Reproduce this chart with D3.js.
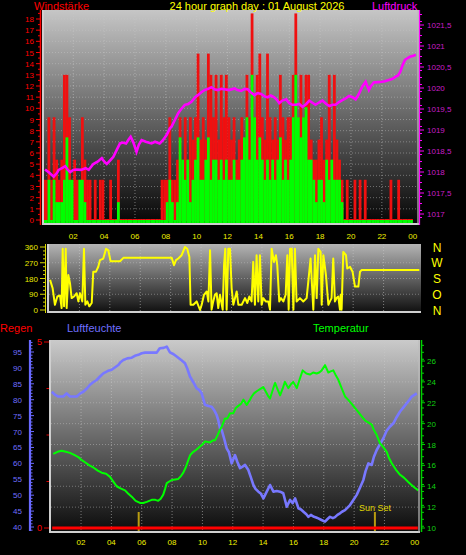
<!DOCTYPE html>
<html><head><meta charset="utf-8">
<script src="https://cdn.jsdelivr.net/npm/d3@7"></script>
<style>body{margin:0;background:#000}svg{display:block}text{font-family:"Liberation Sans",Arial,sans-serif}</style>
</head><body><svg id="c" width="466" height="555"></svg>
<script>
// ---------- DATA ----------
const titleText = "24 hour graph day : 01 August 2026";
const windIntervalMinutes = 10;
const gust = [3.6,3.6,9.2,3.6,9.2,5.4,3.6,5.4,13,13,9.2,3.6,5.4,3.6,3.6,9.2,5.4,3.6,
 3.6,0,3.6,0,3.6,3.6,0,0,3.6,0,0,5.4,
 0,0,0,0,0,0,0,0,0,0,0,0,0,0,0,0,
 3.6,3.6,
 3.6,9.2,3.6,3.6,5.4,9.2,5.4,
 9.2,5.4,9.2,7.2,9.2,14.9,7.2,9.2,7.2,14.9,13,9.2,
 13,7.2,13,9.2,13,9.2,7.2,9.2,5.4,7.2,9.2,7.2,
 13,9.2,18.5,9.2,13,14.9,9.2,7.2,14.9,9.2,7.2,9.2,7.2,13,9.2,7.2,9.2,9.2,13,18.5,
 9.2,13,9.2,13,13,7.2,5.4,5.4,7.2,9.2,5.4,7.2,13,5.4,13,7.2,5.4,3.6,0,
 3.6,0,0,3.6,0,3.6,0,3.6,
 0,0,0,0,0,0,0,0,0,
 3.6,0,0,3.6,
 0,0,0,0,0];
const avgWind = [0,0,3.6,0,3.6,1.6,1.6,1.6,3.6,7.4,3.6,3.6,0,0,3.6,3.6,1.6,0,
 0,0,0,0,0,0,0,0,0,0,0,1.6,
 0,0,0,0,0,0,0,0,0,0,0,0,0,0,0,0,0,0,
 1.6,3.6,1.6,0,1.6,7.4,5.4,
 3.6,5.4,1.6,3.6,5.4,7.4,3.6,3.6,5.4,7.4,3.6,5.4,
 5.4,3.6,5.4,3.6,5.4,3.6,3.6,5.4,3.6,3.6,5.4,7.4,
 9.2,5.4,13,9.2,5.4,7.4,5.4,3.6,5.4,3.6,5.4,3.6,5.4,7.4,3.6,5.4,3.6,5.4,9.2,13,
 9.2,7.4,9.2,10.1,5.4,5.4,3.6,1.6,3.6,3.6,1.6,5.4,3.6,5.4,3.6,3.6,3.6,1.6,0,
 0,0,0,0,0,0,0,0,0,0,0,0,0,0,0,0,0,0,0,0,0,0,0,0,0,0];

const pressHours = [0.17,0.45,0.73,0.95,1.05,1.3,1.48,1.65,1.8,2.0,2.2,2.5,2.8,3.0,3.3,3.6,3.85,4.0,4.17,4.4,4.6,4.85,5.03,5.2,5.42,5.6,5.72,5.9,6.1,6.25,6.43,6.7,7.07,7.3,7.6,7.8,8.05,8.26,8.37,8.6,8.8,9.0,9.23,9.45,9.66,9.9,10.08,10.3,10.5,10.75,10.95,11.15,11.37,11.6,11.8,12.1,12.45,12.65,12.88,13.1,13.3,13.5,13.74,13.95,14.17,14.4,14.6,14.8,15.03,15.2,15.35,15.55,15.8,16.0,16.2,16.43,16.65,16.86,17.1,17.3,17.5,17.7,17.95,18.15,18.4,18.6,18.8,19.0,19.2,19.44,19.65,19.87,20.1,20.3,20.5,20.73,20.95,21.16,21.3,21.48,21.75,22.0,22.2,22.45,22.7,22.9,23.05,23.2,23.35,23.5,23.7,23.85,24.0,24.2];
const pressValues = [1018.06,1017.98,1017.89,1017.98,1018.05,1018.1,1018.14,1018.05,1018.0,1018.05,1018.06,1018.05,1018.09,1018.05,1018.19,1018.25,1018.33,1018.25,1018.19,1018.28,1018.36,1018.55,1018.68,1018.7,1018.68,1018.78,1018.84,1018.7,1018.48,1018.65,1018.76,1018.72,1018.68,1018.72,1018.68,1018.75,1018.88,1019.04,1019.08,1019.25,1019.4,1019.5,1019.6,1019.62,1019.67,1019.78,1019.83,1019.9,1019.95,1019.98,1020.02,1019.97,1019.95,1019.98,1019.97,1019.95,1019.99,1019.95,1019.93,1019.98,1019.97,1019.9,1019.83,1019.88,1019.86,1019.8,1019.78,1019.82,1019.78,1019.72,1019.64,1019.7,1019.73,1019.64,1019.6,1019.6,1019.62,1019.55,1019.62,1019.7,1019.65,1019.6,1019.66,1019.7,1019.62,1019.57,1019.6,1019.6,1019.66,1019.71,1019.75,1019.81,1019.78,1019.73,1019.85,1020.03,1020.15,1019.95,1020.05,1020.13,1020.14,1020.15,1020.16,1020.19,1020.22,1020.27,1020.3,1020.39,1020.55,1020.67,1020.72,1020.75,1020.76,1020.79];

const dirHours = [0.07,0.24,0.39,0.55,0.72,0.83,0.90,0.99,1.10,1.16,1.27,1.38,1.49,1.64,1.82,1.93,2.04,2.19,2.30,2.39,2.52,2.65,2.81,2.91,3.09,3.24,3.35,3.57,3.75,3.90,4.05,4.23,4.67,4.89,5.54,7.74,8.07,8.22,8.35,8.50,8.72,8.94,9.09,9.23,9.31,9.49,9.71,9.93,10.04,10.19,10.37,10.48,10.59,10.69,10.80,10.91,11.02,11.13,11.24,11.42,11.51,11.59,11.68,11.79,11.90,12.01,12.12,12.34,12.45,12.67,12.89,13.04,13.17,13.32,13.43,13.54,13.65,13.76,13.87,13.98,14.09,14.25,14.42,14.53,14.64,14.79,14.92,15.01,15.14,15.25,15.41,15.56,15.67,15.76,15.85,15.96,16.07,16.17,16.28,16.50,16.72,16.94,17.20,17.38,17.49,17.60,17.71,17.86,17.93,18.04,18.21,18.37,18.47,18.58,18.69,18.80,18.91,19.02,19.13,19.18,19.24,19.35,19.53,19.61,19.79,19.96,20.12,20.34,20.45,20.56,24.35];
const dirValues = [172,124,30,77,83,11,350,21,350,11,200,153,68,77,96,49,96,49,350,30,49,21,40,219,219,247,285,294,350,341,279,279,279,298,298,298,298,256,285,294,313,360,350,303,30,30,49,0,30,87,106,49,341,2,49,87,96,11,87,2,256,350,2,350,350,124,30,106,30,30,68,40,77,49,275,30,313,49,313,30,68,49,49,2,350,275,313,256,49,68,49,87,313,2,350,350,2,350,49,68,49,68,294,2,313,68,350,332,30,313,200,30,49,68,294,49,68,77,2,87,2,332,313,237,247,219,134,134,219,228,228];

const humHours = [0.07,0.3,0.5,0.83,1.05,1.27,1.71,1.95,2.15,2.4,2.59,2.8,3.03,3.25,3.47,3.75,4.02,4.25,4.46,4.6,4.79,5.05,5.34,5.55,5.78,6.0,6.22,6.6,6.99,7.1,7.2,7.45,7.65,7.75,7.86,8.1,8.3,8.6,8.85,9.0,9.18,9.4,9.62,9.8,9.95,10.17,10.4,10.61,10.8,10.94,11.05,11.16,11.27,11.45,11.6,11.75,11.93,12.15,12.3,12.48,12.65,12.81,13.03,13.2,13.36,13.5,13.69,13.85,14.02,14.24,14.46,14.68,14.9,15.12,15.33,15.56,15.78,15.95,16.11,16.33,16.5,16.66,16.85,16.99,17.15,17.31,17.5,17.64,17.85,18.08,18.25,18.41,18.6,18.74,18.9,19.07,19.2,19.4,19.55,19.73,19.95,20.17,20.4,20.61,20.75,20.94,21.16,21.3,21.49,21.7,21.93,22.15,22.35,22.59,22.8,23.03,23.25,23.47,23.65,23.8,24.0,24.13];
const humValues = [82.5,81.5,81.0,81.0,82.0,81.0,81.0,82.0,82.5,83.6,84.7,85.5,86.2,87.3,88.3,89.0,89.4,90.2,90.9,91.8,92.5,93.0,93.2,93.8,94.1,94.6,94.8,94.8,94.8,95.6,96.2,96.3,96.7,95.8,94.9,94.3,93.6,92.5,91.5,89.8,87.3,85.5,83.6,83.0,82.0,78.4,78.0,77.8,76.5,75.2,73.5,71.0,70.5,67.5,64.7,63.5,60.0,62.6,60.5,58.5,59.0,59.5,57.9,55.5,53.2,52.0,51.1,50.5,49.0,51.1,53.2,51.1,51.3,51.1,50.6,46.4,48.5,47.5,49.0,45.9,45.5,44.8,44.0,43.2,43.8,43.3,43.0,42.7,42.2,41.7,42.5,43.2,42.8,43.1,43.8,44.3,44.8,45.3,46.0,46.9,48.5,50.1,52.5,54.8,57.5,60.0,59.5,62.0,64.2,66.0,67.9,70.3,71.5,72.6,74.5,76.3,77.6,78.9,80.0,81.0,81.6,82.0];

const tempHours = [0.17,0.45,0.72,1.0,1.27,1.55,1.82,2.05,2.26,2.55,2.81,3.1,3.36,3.65,3.91,4.15,4.35,4.6,4.9,5.1,5.34,5.6,5.89,6.1,6.33,6.66,6.9,7.09,7.25,7.42,7.55,7.65,7.98,8.2,8.41,8.6,8.74,8.9,9.07,9.2,9.4,9.6,9.84,10.0,10.17,10.5,10.7,10.83,11.0,11.16,11.3,11.49,11.65,11.82,12.04,12.2,12.37,12.55,12.7,12.92,13.1,13.25,13.4,13.58,13.8,14.01,14.2,14.35,14.46,14.65,14.79,14.95,15.12,15.3,15.44,15.66,15.85,15.99,16.22,16.4,16.61,16.85,17.09,17.3,17.53,17.7,17.86,18.08,18.3,18.45,18.63,18.8,18.96,19.15,19.4,19.6,19.84,20.05,20.28,20.5,20.72,20.95,21.16,21.3,21.49,21.71,21.9,22.15,22.3,22.48,22.75,23.03,23.3,23.57,23.8,24.0,24.23];
const tempValues = [17.1,17.3,17.4,17.3,17.2,17.0,16.8,16.5,16.3,16.0,15.8,15.5,15.3,15.2,14.9,14.4,14.0,13.8,13.6,13.3,13.0,12.6,12.4,12.4,12.5,12.7,12.7,12.6,12.8,13.2,13.8,14.3,14.6,14.65,14.7,15.0,15.3,15.8,16.5,17.0,17.3,17.5,17.8,18.0,18.3,18.2,18.4,18.4,18.9,19.4,19.8,20.5,20.5,21.0,21.0,21.5,21.7,21.9,22.3,21.8,22.2,22.6,22.9,23.1,23.3,23.5,23.0,22.6,22.4,23.3,23.9,23.3,22.7,23.4,24.0,23.4,23.8,24.0,23.4,24.2,25.1,24.8,24.7,24.9,24.8,24.9,25.1,25.6,24.9,25.0,25.1,24.6,24.2,23.5,22.6,22.3,21.9,21.5,21.1,20.7,20.3,20.1,19.9,19.4,18.9,18.1,17.8,17.3,16.7,16.2,15.6,15.1,14.8,14.4,14.1,13.85,13.6];

const rainHours = [0.1, 24.2];
const rainValues = [0, 0];
const sunHours = [5.8, 21.37];
const sunLabels = ["", "Sun Set"];

const hourTicks = [2,4,6,8,10,12,14,16,18,20,22,24];
const windTicks = d3.range(0, 19, 1);
const pressTicks = [1017,1017.5,1018,1018.5,1019,1019.5,1020,1020.5,1021,1021.5];
const dirTicks = [0,90,180,270,360];
const compass = ["N","W","S","O","N"];
const humTicks = [40,45,50,55,60,65,70,75,80,85,90,95];
const tempTicks = [10,12,14,16,18,20,22,24,26];
const rainTicks = [0,1.25,2.5,3.75,5];

// ---------- SCALES ----------
const topX = d3.scaleLinear().domain([0,24]).range([42.4,412.7]);
const windY = d3.scaleLinear().domain([0,18]).range([220,19]);
const pressY = d3.scaleLinear().domain([1017,1021.5]).range([214,25]);
const dirX = d3.scaleLinear().domain([0,24]).range([49,414]);
const dirY = d3.scaleLinear().domain([0,360]).range([310,247]);
const botX = d3.scaleLinear().domain([0,24]).range([50.7,414.8]);
const humY = d3.scaleLinear().domain([40,95]).range([527,352]);
const tempY = d3.scaleLinear().domain([10,26]).range([528,361]);
const rainY = d3.scaleLinear().domain([0,5]).range([528,342]);

const svg = d3.select('#c');
const defs = svg.append('defs');
function grad(id, c0, c1){
  const g = defs.append('linearGradient').attr('id',id).attr('x1',0).attr('y1',0).attr('x2',0).attr('y2',1);
  g.append('stop').attr('offset',0).attr('stop-color',c0);
  g.append('stop').attr('offset',1).attr('stop-color',c1);
}
grad('gTop','#c6c6c6','#040404');
grad('gDir','#b4b4b4','#0e0e0e');
grad('gBot','#cacaca','#0a0a0a');

function panel(x,y,w,h,gid){
  svg.append('rect').attr('x',x).attr('y',y).attr('width',w).attr('height',h).attr('fill',`url(#${gid})`);
}
function gridV(xs, y0, y1){
  xs.forEach(x=>svg.append('line').attr('x1',x).attr('x2',x).attr('y1',y0).attr('y2',y1)
    .attr('stroke','#c8c8c8').attr('stroke-opacity',0.55).attr('stroke-dasharray','1,2'));
}
function gridH(ys, x0, x1){
  ys.forEach(y=>svg.append('line').attr('x1',x0).attr('x2',x1).attr('y1',y).attr('y2',y)
    .attr('stroke','#c8c8c8').attr('stroke-opacity',0.45).attr('stroke-dasharray','1,2'));
}
function border(x,y,w,h){
  svg.append('rect').attr('x',x).attr('y',y).attr('width',2).attr('height',h).attr('fill','#cfcfcf');
  svg.append('rect').attr('x',x).attr('y',y+h-2).attr('width',w).attr('height',2).attr('fill','#cfcfcf');
  svg.append('rect').attr('x',x+w-2).attr('y',y).attr('width',2).attr('height',h).attr('fill','#bdbdbd').attr('opacity',0.6);
}
function txt(x,y,s,fill,size,anchor){
  return svg.append('text').attr('x',x).attr('y',y).text(s).attr('fill',fill)
    .attr('font-size',size).attr('text-anchor',anchor||'start');
}
const pad = h => String(h%24).padStart(2,'0');

// ---------- TOP PANEL ----------
panel(42,10,377,215,'gTop');
gridH(windTicks.slice(1).map(windY), 43, 417);
gridV(hourTicks.slice(0,-1).map(topX), 10, 224);

const step = topX(windIntervalMinutes/60) - topX(0);
svg.append('g').selectAll('rect').data(gust).join('rect')
  .attr('x',(d,i)=>topX(i*windIntervalMinutes/60))
  .attr('width',step+0.2)
  .attr('y',d=>Math.min(windY(d),219))
  .attr('height',d=>221-Math.min(windY(d),219))
  .attr('fill','#f01010');
svg.append('g').selectAll('rect').data(avgWind).join('rect')
  .attr('x',(d,i)=>topX(i*windIntervalMinutes/60))
  .attr('width',step+0.2)
  .attr('y',d=>Math.min(windY(d),221.5))
  .attr('height',d=>224-Math.min(windY(d),221.5))
  .attr('fill','#00ff00');

svg.append('path').datum(pressHours.map((h,i)=>[h,pressValues[i]]))
  .attr('d',d3.line().x(d=>topX(d[0])).y(d=>pressY(d[1])))
  .attr('fill','none').attr('stroke','#ff00ff').attr('stroke-width',2.6);
border(42,10,377,215);

// wind axis (left)
svg.append('line').attr('x1',40.5).attr('x2',40.5).attr('y1',10).attr('y2',225).attr('stroke','#ff0000').attr('stroke-width',1.5);
d3.range(0,18.6,0.5).forEach(v=>{
  const major = v%1===0;
  svg.append('line').attr('x1',major?36:38).attr('x2',41).attr('y1',windY(v)).attr('y2',windY(v)).attr('stroke','#ff0000');
});
windTicks.forEach(v=>txt(34, windY(v)+3, v, '#ff0000', 8, 'end'));
// pressure axis (right)
svg.append('line').attr('x1',419.5).attr('x2',419.5).attr('y1',10).attr('y2',225).attr('stroke','#ff00ff').attr('stroke-width',1.2);
d3.range(1016.75,1021.9,1/6).forEach(p=>{
  if(pressY(p)>=11 && pressY(p)<=224)
  svg.append('line').attr('x1',419).attr('x2',422).attr('y1',pressY(p)).attr('y2',pressY(p)).attr('stroke','#ff00ff');
});
pressTicks.forEach(p=>{
  svg.append('line').attr('x1',419).attr('x2',424).attr('y1',pressY(p)).attr('y2',pressY(p)).attr('stroke','#ff00ff');
  txt(427, pressY(p)+3, String(p).replace('.',','), '#c81ec8', 8);
});
hourTicks.forEach(h=>txt(topX(h), 239, pad(h), '#f0f000', 8, 'middle'));

txt(34,10,'Windstärke','#ff0000',11);
txt(257,10,titleText,'#ffff00',11,'middle');
txt(372,10,'Luftdruck','#ff00ff',11);

// ---------- WIND DIRECTION PANEL ----------
panel(47,244,374,69,'gDir');
gridH(dirTicks.slice(1,-1).map(dirY), 49, 420);
gridV(hourTicks.slice(0,-1).map(dirX), 244, 311);
svg.append('path').datum(dirHours.map((h,i)=>[h,dirValues[i]]))
  .attr('d',d3.line().x(d=>dirX(d[0])).y(d=>dirY(d[1])))
  .attr('fill','none').attr('stroke','#ffff00').attr('stroke-width',2).attr('stroke-linejoin','round');
svg.append('rect').attr('x',47).attr('y',244).attr('width',2).attr('height',69).attr('fill','#d0d0d0');
svg.append('rect').attr('x',47).attr('y',311).attr('width',374).attr('height',2).attr('fill','#cfcfcf');
svg.append('line').attr('x1',45.5).attr('x2',45.5).attr('y1',244).attr('y2',313).attr('stroke','#d8d800');
d3.range(0,361,22.5).forEach(v=>{
  svg.append('line').attr('x1',v%90===0?40:43).attr('x2',46).attr('y1',dirY(v)).attr('y2',dirY(v)).attr('stroke','#d8d800');
});
dirTicks.forEach(v=>txt(38, dirY(v)+3, v, '#e8e800', 8, 'end'));
compass.forEach((c,i)=>txt(437, dirY(360 - i*90)+4.5, c, '#ffff00', 12, 'middle'));

// ---------- BOTTOM PANEL ----------
panel(49,340,371,193,'gBot');
gridH(tempTicks.slice(0).map(tempY).filter(y=>y<528), 51, 418);
gridV(hourTicks.slice(0,-1).map(botX), 340, 531);

svg.append('path').datum(humHours.map((h,i)=>[h,humValues[i]]))
  .attr('d',d3.line().x(d=>botX(d[0])).y(d=>humY(d[1])))
  .attr('fill','none').attr('stroke','#7878ff').attr('stroke-width',2.6).attr('stroke-linejoin','round');
svg.append('path').datum(tempHours.map((h,i)=>[h,tempValues[i]]))
  .attr('d',d3.line().x(d=>botX(d[0])).y(d=>tempY(d[1])))
  .attr('fill','none').attr('stroke','#00ff00').attr('stroke-width',2).attr('stroke-linejoin','round');

sunHours.forEach((h,i)=>{
  svg.append('line').attr('x1',botX(h)).attr('x2',botX(h)).attr('y1',512).attr('y2',531)
    .attr('stroke','#b89c10').attr('stroke-width',2);
  if(sunLabels[i]) txt(botX(h), 511, sunLabels[i], '#e0d800', 9, 'middle');
});
border(49,340,371,193);
svg.append('path').datum(rainHours.map((h,i)=>[h,rainValues[i]]))
  .attr('d',d3.line().x(d=>botX(d[0])).y(d=>rainY(d[1])))
  .attr('fill','none').attr('stroke','#ff0000').attr('stroke-width',3);

// rain axis
rainTicks.forEach(v=>svg.append('line').attr('x1',(v===0||v===5)?44:46.5).attr('x2',49).attr('y1',rainY(v)).attr('y2',rainY(v)).attr('stroke','#e00000'));
[0,5].forEach(v=>txt(42, rainY(v)+3, v, '#ff0000', 9, 'end'));
// humidity axis
svg.append('line').attr('x1',30).attr('x2',30).attr('y1',340).attr('y2',531).attr('stroke','#6a6aff').attr('stroke-width',2.2);
d3.range(39,99,1).forEach(v=>{
  if(humY(v)>=341 && humY(v)<=531)
  svg.append('line').attr('x1',30).attr('x2',v%5===0?34:32.5).attr('y1',humY(v)).attr('y2',humY(v)).attr('stroke','#6a6aff');
});
humTicks.forEach(v=>txt(22, humY(v)+3, v, '#6f6fff', 8, 'end'));
// temperature axis
svg.append('line').attr('x1',421.5).attr('x2',421.5).attr('y1',340).attr('y2',532).attr('stroke','#00d000').attr('stroke-width',1.5);
d3.range(9.5,28.1,2/3).forEach(v=>{
  if(tempY(v)>=341 && tempY(v)<=531)
  svg.append('line').attr('x1',421).attr('x2',424).attr('y1',tempY(v)).attr('y2',tempY(v)).attr('stroke','#00d000');
});
tempTicks.forEach(v=>{
  svg.append('line').attr('x1',421).attr('x2',425).attr('y1',tempY(v)).attr('y2',tempY(v)).attr('stroke','#00d000');
  txt(427, tempY(v)+3, v, '#10d010', 8);
});
hourTicks.forEach(h=>txt(botX(h), 545, pad(h), '#f0f000', 8, 'middle'));

txt(0,332,'Regen','#ff0000',11);
txt(67,332,'Luftfeuchte','#7070ff',11);
txt(313,332,'Temperatur','#00ff00',11);
</script></body></html>
